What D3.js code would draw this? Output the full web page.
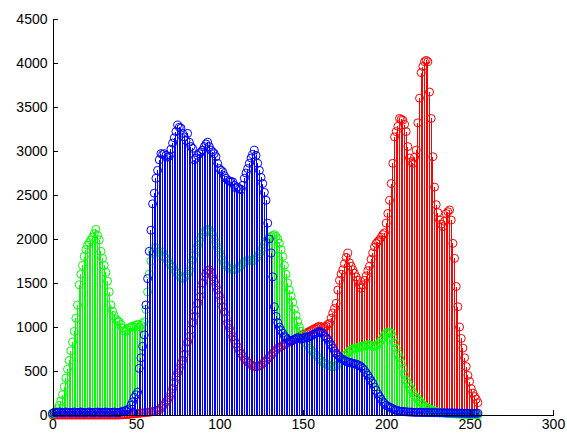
<!DOCTYPE html>
<html>
<head>
<meta charset="utf-8">
<script src="https://cdn.jsdelivr.net/npm/d3@7"></script>
<style>
    body { margin: 0; background: #fff; }
    #chart text { font-family: "Liberation Sans", Arial, sans-serif; font-size: 14px; fill: #000; }
</style>
</head>
<body>
<div id="chart"></div>
<script>
// Histogram counts per intensity bin (0..255)
const redCounts = [
    0,0,0,0,0,0,0,0,0,0,0,0,0,0,0,0,
    0,0,0,0,0,0,0,0,0,0,0,0,0,0,0,0,
    0,0,0,0,0,0,0,0,0,2,3,4,5,6,8,10,
    12,14,16,18,20,22,24,26,28,30,32,35,38,42,48,55,
    60,80,100,120,150,170,200,250,300,370,430,480,530,580,620,690,
    760,830,890,970,1050,1120,1190,1270,1340,1420,1500,1570,1610,1640,1650,1620,
    1570,1520,1470,1420,1360,1300,1230,1170,1100,1040,990,940,890,850,810,770,
    730,700,670,640,620,600,590,570,560,555,550,550,560,570,585,600,
    620,640,660,680,700,720,740,760,770,780,790,800,810,820,830,840,
    850,860,870,880,890,900,910,920,930,940,950,960,970,980,990,1000,
    1010,1000,990,1000,1010,1030,1040,1100,1160,1210,1270,1420,1530,1600,1650,1720,
    1790,1840,1730,1690,1650,1610,1570,1530,1480,1440,1480,1530,1580,1640,1690,1770,
    1840,1910,1950,1970,1990,2020,2050,2070,2180,2290,2440,2630,2860,3160,3220,3280,
    3370,3360,3350,3300,3220,3050,2920,2880,2860,2930,3010,3320,3600,3890,3960,4015,
    4030,4015,3670,3370,2935,2590,2390,2300,2215,2170,2140,2200,2290,2310,2330,2215,
    1950,1780,1460,1230,1000,870,760,650,550,450,380,300,250,210,180,140
];

const greenCounts = [
    10,20,40,70,110,160,230,320,420,520,620,730,830,950,1100,1250,
    1480,1600,1700,1800,1880,1930,1960,1990,2020,2060,2110,2040,1990,1860,1780,1700,
    1620,1520,1400,1250,1180,1130,1090,1070,1060,1030,990,960,950,970,990,1000,
    1010,1000,1020,1030,1000,1020,1040,1060,1200,1400,1600,1750,1850,1900,1900,1850,
    1850,1800,1850,1800,1780,1750,1720,1700,1680,1650,1620,1600,1580,1560,1550,1560,
    1580,1600,1640,1700,1760,1820,1880,1930,1980,2020,2050,2080,2100,2110,2100,2080,
    2050,2000,1950,1900,1850,1800,1760,1730,1700,1680,1670,1660,1650,1650,1660,1670,
    1680,1700,1720,1740,1750,1760,1760,1750,1750,1760,1780,1800,1830,1860,1900,1940,
    1970,2000,2020,2030,2040,2050,2030,2000,1950,1880,1800,1700,1600,1500,1420,1350,
    1280,1200,1130,1060,1000,950,900,860,820,790,760,740,720,700,680,660,
    640,620,600,590,580,570,560,550,550,550,560,570,590,610,640,670,
    690,710,730,740,750,760,760,770,770,780,780,790,790,800,800,790,
    780,780,790,800,820,850,880,910,930,945,940,930,880,820,760,700,
    650,590,530,460,400,360,320,290,250,220,200,180,160,140,120,100,
    90,80,70,60,50,45,40,35,30,28,25,22,20,18,16,15,
    14,13,12,11,10,9,8,8,7,6,5,5,4,3,2,2
];

const blueCounts = [
    20,30,25,30,35,30,25,30,35,30,30,25,30,35,30,25,
    30,35,30,25,30,30,35,30,25,30,30,35,30,25,30,30,
    35,30,25,30,30,35,30,25,30,35,40,45,50,60,70,110,
    150,200,230,260,530,650,780,910,1250,1550,1860,2100,2400,2520,2690,2780,
    2900,2970,2960,2970,2950,2930,2940,3020,3090,3150,3220,3295,3270,3260,3200,3160,
    3120,3200,3100,3050,3030,2900,2920,2950,2970,2990,3010,3050,3080,3100,3050,3010,
    2990,2970,2935,2860,2800,2780,2765,2720,2690,2670,2660,2650,2650,2610,2580,2590,
    2570,2560,2610,2690,2750,2800,2860,2920,2960,3010,2950,2860,2780,2700,2630,2530,
    2440,2180,2000,1840,1570,1230,1120,1050,1000,960,930,900,880,860,850,840,
    850,860,870,880,870,860,870,880,890,880,890,900,910,920,930,940,
    950,940,930,900,880,860,830,800,760,730,700,680,660,640,630,620,
    610,600,600,590,590,580,580,570,560,550,530,510,480,450,420,390,
    360,320,280,240,210,180,150,130,110,100,90,80,70,60,55,50,
    45,42,40,38,36,35,34,33,32,31,30,30,30,29,29,28,
    28,28,27,27,27,26,26,26,25,25,25,25,24,24,24,24,
    23,23,23,22,22,22,21,21,21,20,20,20,20,20,20,20
];

const xTicks = [0, 50, 100, 150, 200, 250, 300];
const yTicks = [0, 500, 1000, 1500, 2000, 2500, 3000, 3500, 4000, 4500];

// drawn in this order, later series cover earlier ones
const SERIES = [
    { name: 'red', color: '#ff0000', counts: redCounts },
    { name: 'green', color: '#00ff00', counts: greenCounts },
    { name: 'blue', color: '#0000ff', counts: blueCounts }
];

const width = 567, height = 434;

const svg = d3.select('#chart').append('svg')
    .attr('width', width)
    .attr('height', height);

const x = d3.scaleLinear().domain([0, 300]).range([52.5, 553]);
const y = d3.scaleLinear().domain([0, 4500]).range([415, 19]);

function drawSeries(s) {
    const g = svg.append('g').attr('class', 'stem-' + s.name);
    const pts = s.counts.map((v, i) => [i, v]);

    // crisp so a stem fully hides the one under it at the same bin
    g.selectAll('line')
        .data(pts)
        .enter()
        .append('line')
        .attr('x1', d => x(d[0]))
        .attr('x2', d => x(d[0]))
        .attr('y1', y(0))
        .attr('y2', d => y(d[1]))
        .attr('stroke', s.color)
        .attr('stroke-width', 1)
        .attr('shape-rendering', 'crispEdges');

    g.selectAll('circle')
        .data(pts)
        .enter()
        .append('circle')
        .attr('cx', d => x(d[0]))
        .attr('cy', d => y(d[1]))
        .attr('r', 4)
        .attr('fill', 'none')
        .attr('stroke', s.color)
        .attr('stroke-width', 1);
}

SERIES.forEach(drawSeries);

// axes, ticks point inward like matlab
const yAxis = svg.append('g')
    .attr('transform', `translate(${x(0)},0)`)
    .call(d3.axisLeft(y).tickValues(yTicks).tickFormat(d3.format('d'))
        .tickSize(-5).tickSizeOuter(0).tickPadding(5));

const xAxis = svg.append('g')
    .attr('transform', `translate(0,${y(0)})`)
    .call(d3.axisBottom(x).tickValues(xTicks).tickFormat(d3.format('d'))
        .tickSize(-5).tickSizeOuter(0).tickPadding(4));

[yAxis, xAxis].forEach(a => {
    a.selectAll('path, line').attr('stroke', '#000').attr('shape-rendering', 'crispEdges');
    a.selectAll('text').attr('font-size', null).attr('font-family', null);
});
</script>
</body>
</html>
